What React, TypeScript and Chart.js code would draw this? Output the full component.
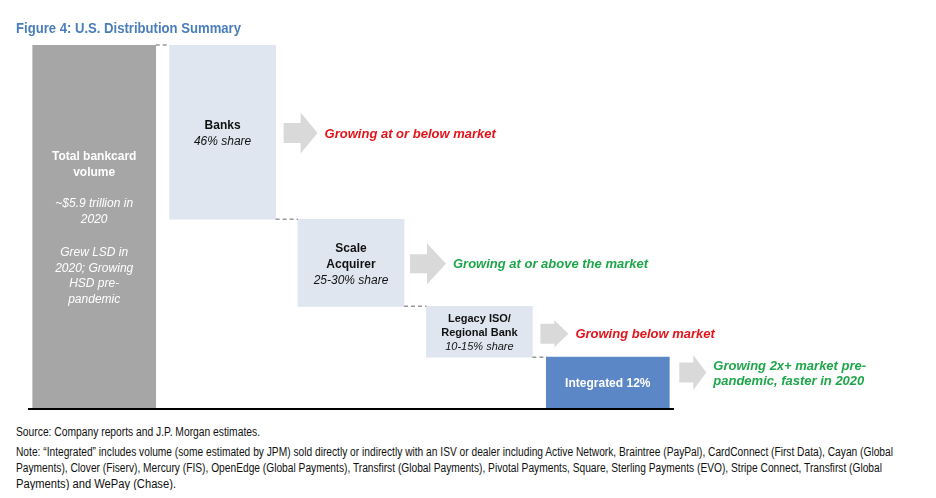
import React, { useEffect, useLayoutEffect, useRef } from "react";
import { Chart, registerables } from "chart.js";
Chart.register(...registerables);

// ---- data ----
const categories = ["Total bankcard volume", "Banks", "Scale Acquirer", "Legacy ISO/Regional Bank", "Integrated"];
// height of each segment on a 0-100 scale (total volume = 100), as drawn
const segmentHeights = [100, 48, 24, 14, 14];
const barTitles = [["Total bankcard", "volume"], ["Banks"], ["Scale", "Acquirer"], ["Legacy ISO/", "Regional Bank"], ["Integrated 12%"]];
const barNotes = [
  [["~$5.9 trillion in", "2020"], ["Grew LSD in", "2020; Growing", "HSD pre-", "pandemic"]],
  [["46% share"]],
  [["25-30% share"]],
  [["10-15% share"]],
  [],
];
const outlooks = [
  [],
  ["Growing at or below market"],
  ["Growing at or above the market"],
  ["Growing below market"],
  ["Growing 2x+ market pre-", "pandemic, faster in 2020"],
];
const outlookPositive = [false, false, true, false, true];

const titleText = "Figure 4: U.S. Distribution Summary";
const sourceText = "Source: Company reports and J.P. Morgan estimates.";
const noteLines = [
  "Note: \u201cIntegrated\u201d includes volume (some estimated by JPM) sold directly or indirectly with an ISV or dealer including Active Network, Braintree (PayPal), CardConnect (First Data), Cayan (Global",
  "Payments), Clover (Fiserv), Mercury (FIS), OpenEdge (Global Payments), Transfirst (Global Payments), Pivotal Payments, Square, Sterling Payments (EVO), Stripe Connect, Transfirst (Global",
  "Payments) and WePay (Chase).",
];

// ---- derived waterfall ranges ----
const ranges: [number, number][] = (() => {
  const out: [number, number][] = [[0, segmentHeights[0]]];
  let top = segmentHeights[0];
  for (let i = 1; i < segmentHeights.length; i++) {
    out.push([top - segmentHeights[i], top]);
    top -= segmentHeights[i];
  }
  return out;
})();

const FONT = "'Liberation Sans', Arial, sans-serif";

// style config
const arrowSpecs = [
  null,
  { body: 17, head: 17, bodyH: 20, headH: 41, gap: 8, dy: 1 },
  { body: 17, head: 19, bodyH: 19, headH: 41, gap: 6, dy: 1 },
  { body: 14, head: 14, bodyH: 20, headH: 27, gap: 8, dy: 2 },
  { body: 14, head: 13, bodyH: 20, headH: 35, gap: 10, dy: -10 },
];

const overlayPlugin = {
  id: "overlay",
  afterDatasetsDraw(chart: any) {
    const ctx = chart.ctx as CanvasRenderingContext2D;
    const area = chart.chartArea;
    const elems: any[] = [];
    for (let i = 0; i < categories.length; i++) {
      const wide = chart.getDatasetMeta(0).data[i];
      const narrow = chart.getDatasetMeta(1).data[i];
      const d0 = chart.data.datasets[0].data[i];
      elems.push(d0 ? wide : narrow);
    }
    ctx.save();
    // baseline
    ctx.strokeStyle = "#000";
    ctx.lineWidth = 2;
    ctx.beginPath();
    ctx.moveTo(area.left - 2, area.bottom + 1);
    ctx.lineTo(area.right + 2, area.bottom + 1);
    ctx.stroke();

    // dashed connectors
    ctx.strokeStyle = "#9a9a9a";
    ctx.lineWidth = 1.5;
    ctx.setLineDash([4, 3]);
    for (let i = 1; i < elems.length; i++) {
      const p = elems[i - 1].getProps(["x", "y", "base", "width"]);
      const c = elems[i].getProps(["x", "y", "base", "width"]);
      const y = Math.min(c.y, c.base);
      ctx.beginPath();
      ctx.moveTo(p.x + p.width / 2, y);
      ctx.lineTo(c.x - c.width / 2, y);
      ctx.stroke();
    }
    ctx.setLineDash([]);

    // labels in bars
    ctx.textAlign = "center";
    ctx.textBaseline = "middle";
    for (let i = 0; i < elems.length; i++) {
      const e = elems[i].getProps(["x", "y", "base", "width"]);
      const top = Math.min(e.y, e.base);
      const bottom = Math.max(e.y, e.base);
      const cy = (top + bottom) / 2;
      const small = i === 3;
      const fs = small ? 11 : 12;
      const lh = small ? 14 : 16;
      const paraGap = 16;
      const color = i === 0 || i === 4 ? "#ffffff" : "#111111";
      const lines: { t: string; italic: boolean; y: number }[] = [];
      let y = 0;
      barTitles[i].forEach((t) => {
        lines.push({ t, italic: false, y });
        y += lh;
      });
      barNotes[i].forEach((para, pi) => {
        if (i === 0) y += paraGap - 1;
        if (i === 0 && pi > 0) y += 3;
        para.forEach((t) => {
          lines.push({ t, italic: true, y });
          y += i === 0 ? 15.5 : lh;
        });
      });
      const total = lines.length ? lines[lines.length - 1].y : 0;
      ctx.fillStyle = color;
      lines.forEach((l) => {
        ctx.font = `${l.italic ? "italic " : "bold "}${fs}px ${FONT}`;
        ctx.fillText(l.t, e.x, cy - total / 2 + l.y + 1.5);
      });

      // arrows & outlook
      const spec = arrowSpecs[i];
      if (spec) {
        const x0 = e.x + e.width / 2 + spec.gap;
        const ay = cy + spec.dy;
        ctx.fillStyle = "#d9d9d9";
        ctx.beginPath();
        ctx.moveTo(x0, ay - spec.bodyH / 2);
        ctx.lineTo(x0 + spec.body, ay - spec.bodyH / 2);
        ctx.lineTo(x0 + spec.body, ay - spec.headH / 2);
        ctx.lineTo(x0 + spec.body + spec.head, ay);
        ctx.lineTo(x0 + spec.body, ay + spec.headH / 2);
        ctx.lineTo(x0 + spec.body, ay + spec.bodyH / 2);
        ctx.lineTo(x0, ay + spec.bodyH / 2);
        ctx.closePath();
        ctx.fill();
        const tx = x0 + spec.body + spec.head + 7;
        ctx.textAlign = "left";
        ctx.font = `italic bold 13px ${FONT}`;
        ctx.fillStyle = outlookPositive[i] ? "#1fa64a" : "#e2151b";
        const ol = outlooks[i];
        ol.forEach((t, k) => {
          ctx.fillText(t, tx, ay + (k - (ol.length - 1) / 2) * 15 + 1);
        });
        ctx.textAlign = "center";
      }
    }
    ctx.restore();
  },
};

// Text line condensed horizontally to a target width (reference uses a narrow face)
function FitLine(props: { text: string; width: number; style: React.CSSProperties }) {
  const ref = useRef<HTMLSpanElement>(null);
  useLayoutEffect(() => {
    const el = ref.current;
    if (!el) return;
    el.style.transform = "none";
    const w = el.getBoundingClientRect().width;
    if (w > 0) el.style.transform = `scaleX(${props.width / w})`;
  }, [props.text, props.width]);
  return (
    <div style={{ ...props.style, whiteSpace: "nowrap" }}>
      <span ref={ref} style={{ display: "inline-block", transformOrigin: "0 0" }}>
        {props.text}
      </span>
    </div>
  );
}

const noteWidths = [877, 866, 160];

export default function App() {
  const ref = useRef<HTMLCanvasElement>(null);
  useEffect(() => {
    if (!ref.current) return;
    const wideData = ranges.map((r, i) => (i === 0 || i === categories.length - 1 ? r : null));
    const narrowData = ranges.map((r, i) => (i === 0 || i === categories.length - 1 ? null : r));
    const chart = new Chart(ref.current, {
      type: "bar",
      data: {
        labels: categories,
        datasets: [
          {
            data: wideData as any,
            backgroundColor: ["#a6a6a6", "#a6a6a6", "#a6a6a6", "#a6a6a6", "#5b87c6"],
            barThickness: 123,
            grouped: false,
            borderSkipped: false,
          } as any,
          {
            data: narrowData as any,
            backgroundColor: "#dfe6f0",
            barThickness: 106,
            grouped: false,
            borderSkipped: false,
          } as any,
        ],
      },
      options: {
        responsive: false,
        animation: false,
        devicePixelRatio: 1,
        layout: { padding: { left: 22, right: 256, top: 37, bottom: 12 } },
        plugins: { legend: { display: false }, tooltip: { enabled: false }, title: { display: false } },
        scales: {
          x: { display: false },
          y: { display: false, min: 0, max: 100 },
        },
      },
      plugins: [overlayPlugin],
    });
    return () => chart.destroy();
  }, []);

  const baseText: React.CSSProperties = { fontFamily: FONT, fontSize: 12, lineHeight: "16px", color: "#111" };

  return (
    <div style={{ position: "relative", width: 920, height: 482, fontFamily: FONT }}>
      <canvas ref={ref} width={920} height={412} style={{ position: "absolute", left: 0, top: 0 }} />
      <div style={{ position: "absolute", left: 8, top: 11 }}>
        <FitLine
          text={titleText}
          width={225}
          style={{ fontFamily: FONT, fontSize: 15, lineHeight: "18px", fontWeight: "bold", color: "#4a7ebb" }}
        />
      </div>
      <div style={{ position: "absolute", left: 8, top: 416 }}>
        <FitLine text={sourceText} width={244} style={baseText} />
      </div>
      <div style={{ position: "absolute", left: 8, top: 436 }}>
        {noteLines.map((l, i) => (
          <FitLine key={i} text={l} width={noteWidths[i]} style={baseText} />
        ))}
      </div>
    </div>
  );
}
